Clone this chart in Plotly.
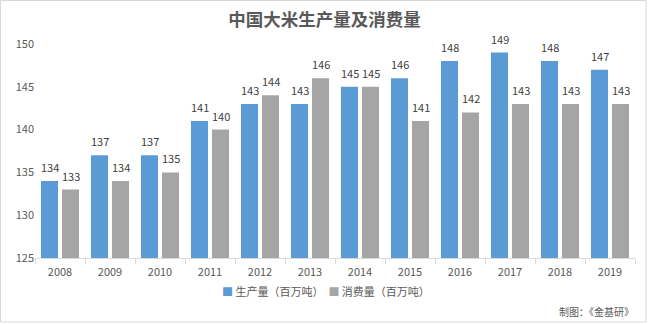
import plotly.graph_objects as go

years = ["2008", "2009", "2010", "2011", "2012", "2013", "2014", "2015", "2016", "2017", "2018", "2019"]
production = [134, 137, 137, 141, 143, 143, 145, 146, 148, 149, 148, 147]
consumption = [133, 134, 135, 140, 144, 146, 145, 141, 142, 143, 143, 143]
series_names = ["生产量（百万吨）", "消费量（百万吨）"]
series_colors = ["#5B9BD5", "#A5A5A5"]
y_ticks = [125, 130, 135, 140, 145, 150]

W, H = 649, 324
ML, MR, MT, MB = 35, 14, 44, 66
PW, PH = W - ML - MR, H - MT - MB
BARGAP, GROUPGAP = 0.16, 0.19
SLOT = (1 - BARGAP) / 2  # share of a category taken by one series

font_family = "Microsoft YaHei, Noto Sans CJK SC, sans-serif"


def px_x(p):
    return (p - ML) / PW


def px_y(p):
    return (H - MB - p) / PH


fig = go.Figure()
annotations = []
for k, (name, vals, color) in enumerate(zip(series_names, [production, consumption], series_colors)):
    fig.add_trace(go.Bar(x=years, y=vals, name=name,
                         marker=dict(color=color, line=dict(width=0))))
    offset = (k - 0.5) * SLOT
    for i, v in enumerate(vals):
        annotations.append(dict(x=i + offset, y=v, xref="x", yref="y",
                                text=str(v), showarrow=False,
                                yanchor="bottom", xanchor="center", yshift=4,
                                font=dict(size=11, color="#404040")))

# legend drawn as a single centred line
legend_text = (f"<span style='color:{series_colors[0]}'>■</span> {series_names[0]}  "
               f"<span style='color:{series_colors[1]}'>■</span> {series_names[1]}")
annotations.append(dict(text=legend_text, xref="paper", yref="paper",
                        x=px_x(325.5), y=px_y(291), xanchor="center", yanchor="middle",
                        showarrow=False, font=dict(size=11, color="#595959")))
annotations.append(dict(text="制图：《金基研》", xref="paper", yref="paper",
                        x=px_x(636), y=px_y(311), xanchor="right", yanchor="middle",
                        showarrow=False, font=dict(size=10, color="#595959")))

fig.update_layout(
    width=W, height=H,
    margin=dict(l=ML, r=MR, t=MT, b=MB),
    paper_bgcolor="white", plot_bgcolor="white",
    font=dict(family=font_family, color="#595959", size=11),
    barmode="group", bargap=BARGAP, bargroupgap=GROUPGAP,
    title=dict(text="<b>中国大米生产量及消费量</b>", x=0.5, xanchor="center",
               y=1 - 20 / H, yanchor="middle",
               font=dict(size=17.5, color="#595959")),
    showlegend=False,
    xaxis=dict(showline=True, linecolor="#D9D9D9", linewidth=1,
               ticks="outside", tickson="boundaries", tickcolor="#D9D9D9",
               ticklen=5, ticklabelstandoff=4,
               tickfont=dict(size=11, color="#595959"),
               showgrid=False, fixedrange=True),
    yaxis=dict(range=[125, 150], tickvals=y_ticks, showgrid=False,
               zeroline=False, showline=False, ticks="",
               tickfont=dict(size=11, color="#595959"), fixedrange=True),
    shapes=[dict(type="rect", xref="paper", yref="paper",
                 x0=px_x(0.5), x1=px_x(646), y0=px_y(322), y1=px_y(0.5),
                 line=dict(color="#D9D9D9", width=1), layer="below")],
    annotations=annotations,
)

fig.write_html("out.html")
